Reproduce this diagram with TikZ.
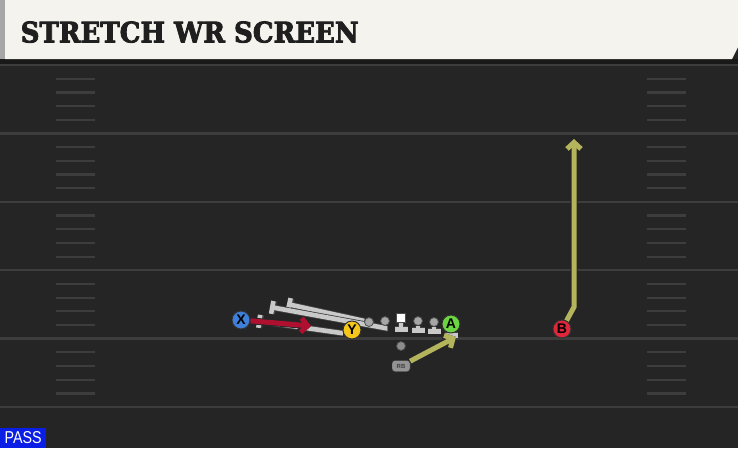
\documentclass[tikz,border=0pt]{standalone}
\usepackage{fontspec}
\setmainfont{Liberation Sans}
\newfontfamily\slabfont{DejaVu Serif}[BoldFeatures={FakeBold=3}]
\usetikzlibrary{arrows.meta}
\definecolor{field}{HTML}{252525}
\definecolor{yardln}{HTML}{3D3D3D}
\definecolor{paper}{HTML}{F5F3ED}
\definecolor{olive}{HTML}{B4B45C}
\definecolor{routered}{HTML}{B0102F}
\definecolor{blockgray}{HTML}{C9C9C9}
\definecolor{xblue}{HTML}{3D7FD9}
\definecolor{yyellow}{HTML}{F5C71A}
\definecolor{agreen}{HTML}{6CD641}
\definecolor{bred}{HTML}{E0263B}
\definecolor{passblue}{HTML}{0A1EE6}
\pgfdeclarelayer{bg}
\pgfdeclarelayer{lines}
\pgfsetlayers{bg,lines,main}
\begin{document}
\begin{tikzpicture}[x=1pt,y=-1pt,line join=round,line cap=round,
  skill/.style={circle,draw=black!80,line width=1pt,fill=#1,minimum size=18pt,inner sep=0pt,
    font=\fontsize{14}{14}\selectfont\bfseries},
  lineman/.style={circle,draw=black!70,line width=0.8pt,fill=black!35,minimum size=9pt,inner sep=0pt},
  blockln/.style={draw=blockgray,line width=4.6pt,preaction={draw=black!75,line width=6.2pt},-{Bar[width=13pt]}},
  route/.style={draw=#1,line width=5pt,preaction={draw=black!85,line width=6.8pt},
    -{Straight Barb[length=6.5pt,width=14pt]}},
  yardline/.style={draw=yardln,line width=2.4pt},
  hash/.style={draw=yardln,line width=2.2pt}]
\useasboundingbox (0,0) rectangle (738,448);
\begin{pgfonlayer}{bg}
% field and header
\fill[field] (0,0) rectangle (738,448);
\foreach \k in {0,...,5} \draw[yardline] (0,{65+68.4*\k}) -- (738,{65+68.4*\k});
\foreach \k in {0,...,4} \foreach \j in {1,...,4} {
  \draw[hash] (56,{65+68.4*\k+13.7*\j}) -- (95,{65+68.4*\k+13.7*\j});
  \draw[hash] (647,{65+68.4*\k+13.7*\j}) -- (686,{65+68.4*\k+13.7*\j});
}
\fill[black!90] (0,59) rectangle (738,64);
\fill[black!35] (0,0) rectangle (5,59);
\fill[paper] (5,0) -- (738,0) -- (738,47) -- (732,59) -- (5,59) -- cycle;
\end{pgfonlayer}
\node[anchor=south west,inner sep=0pt,text=black!88] (title) at (20.5,43)
  {\resizebox{338pt}{21pt}{\slabfont\bfseries STRETCH WR SCREEN}};
\node[fill=passblue,anchor=south west,minimum width=46pt,minimum height=20pt,inner sep=0pt,text=white] (pass)
  at (0,448) {\resizebox{37pt}{12pt}{PASS}};
% players
\node[skill=xblue] (X) at (241,320) {X};
\node[skill=yyellow] (Y) at (352,330) {Y};
\node[skill=agreen] (A) at (451,324) {A};
\node[skill=bred] (B) at (562,329) {B};
\node[lineman] (LT) at (369,322) {};
\node[lineman] (LG) at (385,321) {};
\node[draw=black!70,fill=white,minimum size=9pt,inner sep=0pt] (C) at (401,318) {};
\node[lineman] (RG) at (418,321) {};
\node[lineman] (RT) at (434,322) {};
\node[lineman,fill=black!45] (QB) at (401,346) {};
\node[draw=black!75,fill=black!42,rounded corners=3pt,minimum width=18pt,minimum height=11pt,inner sep=0pt,
  text=black!75,font=\fontsize{6}{6}\selectfont\bfseries] (RB) at (401,366) {RB};
\coordinate (ltend) at (287,304);
\coordinate (lgend) at (270,307);
\coordinate (yend) at (257,321);
\coordinate (cend) at (401,332);
\coordinate (rgend) at (418,333);
\coordinate (rtend) at (434,334);
\coordinate (aend) at (451,338);
\coordinate (xend) at (311,326);
\coordinate (bcut) at (574,307);
\coordinate (bend) at (574,139);
\coordinate (rbend) at (456,337);
\begin{pgfonlayer}{lines}
\draw[blockln] (LT) -- (ltend);
\draw[blockln] (LG) -- ++(0,7) -- (lgend);
\draw[blockln] (Y.200) -- (yend);
\draw[blockln] (C) -- (cend);
\draw[blockln] (RG) -- (rgend);
\draw[blockln] (RT) -- (rtend);
\draw[blockln] (A) -- (aend);
\draw[route=routered] (X) -- (xend);
\draw[route=olive] (B) -- (bcut) -- (bend);
\draw[route=olive] (RB) -- (rbend);
\end{pgfonlayer}
\end{tikzpicture}
\end{document}
